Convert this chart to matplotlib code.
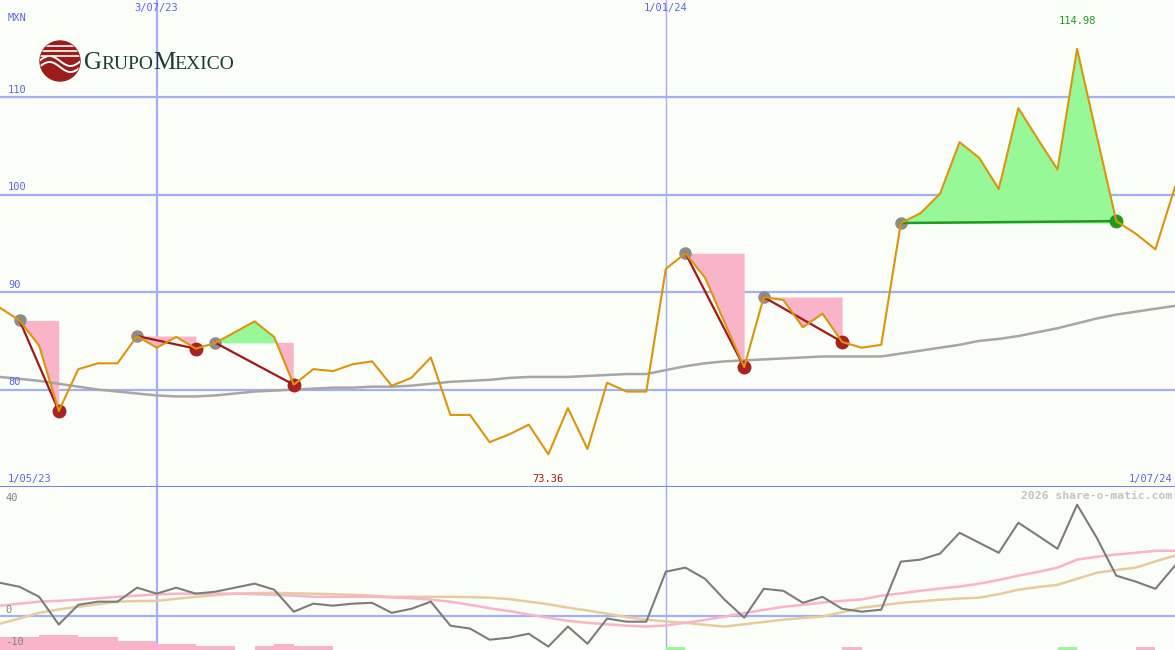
import matplotlib
matplotlib.use('Agg')
import matplotlib.pyplot as plt
import matplotlib.patches as mpatches
import pandas as pd
import numpy as np

# weekly closes, May 2023 - Jul 2024
dates = pd.date_range('2023-05-08', periods=61, freq='7D')

price = [88.4, 87.1, 84.5, 77.8, 82.1, 82.7, 82.7, 85.5, 84.3, 85.4,
         84.2, 84.8, 85.9, 87.0, 85.4, 80.5, 82.1, 81.9, 82.6, 82.9,
         80.4, 81.2, 83.3, 77.4, 77.4, 74.6, 75.4, 76.4, 73.36, 78.1,
         73.9, 80.7, 79.8, 79.8, 92.4, 94.0, 91.5, 86.9, 82.3, 89.5,
         89.2, 86.4, 87.8, 84.9, 84.3, 84.6, 97.1, 98.1, 100.1, 105.4,
         103.8, 100.6, 108.9, 105.7, 102.6, 114.98, 106.1, 97.3, 96.0, 94.4,
         100.8]

avg = [81.3, 81.1, 80.9, 80.6, 80.3, 80.0, 79.8, 79.6, 79.4, 79.3,
       79.3, 79.4, 79.6, 79.8, 79.9, 80.0, 80.1, 80.2, 80.2, 80.3,
       80.3, 80.4, 80.6, 80.8, 80.9, 81.0, 81.2, 81.3, 81.3, 81.3,
       81.4, 81.5, 81.6, 81.6, 82.0, 82.4, 82.7, 82.9, 83.0, 83.1,
       83.2, 83.3, 83.4, 83.4, 83.4, 83.4, 83.7, 84.0, 84.3, 84.6,
       85.0, 85.2, 85.5, 85.9, 86.3, 86.8, 87.3, 87.7, 88.0, 88.3,
       88.6]

# lower panel oscillator
osc = [11.5, 10.1, 6.6, -3.1, 3.8, 4.9, 4.9, 9.8, 7.7, 9.8,
       7.7, 8.4, 9.8, 11.2, 9.1, 1.4, 4.2, 3.5, 4.2, 4.5,
       1.0, 2.4, 4.9, -3.5, -4.5, -8.4, -7.7, -6.3, -10.8, -3.8,
       -9.8, -1.0, -2.1, -2.1, 15.4, 16.8, 12.9, 5.6, -0.7, 9.4,
       8.7, 4.5, 6.6, 2.4, 1.4, 2.1, 18.9, 19.6, 21.7, 29.0,
       25.5, 22.0, 32.5, 28.0, 23.4, 38.8, 27.3, 14.0, 11.9, 9.4,
       17.5]

osc_fast = [3.5, 4.2, 4.9, 5.2, 5.6, 6.1, 6.6, 7.0, 7.4, 7.7,
            7.7, 7.7, 7.7, 7.5, 7.3, 7.0, 6.6, 6.6, 6.6, 6.6,
            6.4, 6.1, 5.6, 4.9, 3.8, 2.6, 1.6, 0.4, -0.7, -1.8,
            -2.5, -3.0, -3.5, -3.8, -3.4, -2.5, -1.5, -0.3, 0.9, 2.0,
            3.1, 3.8, 4.6, 5.2, 5.7, 7.0, 7.8, 8.7, 9.5, 10.2,
            11.2, 12.5, 14.0, 15.3, 16.8, 19.6, 20.6, 21.4, 22.0, 22.7,
            22.7]

osc_slow = [-2.8, -1.0, 1.0, 2.2, 3.1, 4.0, 4.9, 5.1, 5.2, 5.9,
            6.6, 7.2, 7.7, 7.9, 8.0, 7.8, 7.7, 7.5, 7.3, 7.0,
            6.6, 6.6, 6.6, 6.6, 6.5, 6.3, 5.8, 4.9, 4.0, 2.8,
            1.8, 0.7, -0.5, -1.4, -2.0, -2.5, -3.2, -3.8, -3.0, -2.2,
            -1.4, -0.8, -0.3, 1.2, 2.8, 3.6, 4.5, 5.0, 5.6, 6.0,
            6.3, 7.5, 9.1, 10.0, 10.8, 12.9, 15.0, 16.0, 16.8, 19.0,
            21.0]

bar_idx = [0, 1, 2, 3, 4, 5, 6, 7, 8, 9, 10, 11, 13, 14, 15, 16, 34, 43, 54, 58]
bar_val = [-7.6, -7.6, -6.6, -6.6, -7.6, -7.6, -8.7, -8.7, -9.8, -9.8,
           -10.7, -10.7, -10.7, -9.8, -10.7, -10.7, -10.8, -10.8, -10.8, -10.8]
bar_col = ['pink'] * 16 + ['green', 'pink', 'green', 'pink']

# swing pairs (peak index, trough index) and the final breakout
swings = [(1, 3), (7, 10), (11, 15), (35, 38), (39, 43)]
rise = (46, 57)

BG = '#fbfdf8'
GRID = '#a4b0f2'
BLUE = '#5a66e6'
PINK = '#f9b4c9'
GREEN = '#98f898'
ORANGE = '#d9960a'
MONO = 'DejaVu Sans Mono'

W, H = 1175, 650
fig = plt.figure(figsize=(W / 100, H / 100), dpi=100, facecolor=BG)
ax = fig.add_axes([0, 163 / H, 1, 487 / H], facecolor=BG)
ax2 = fig.add_axes([0, 0, 1, 163 / H], facecolor=BG, sharex=ax)

price = np.array(price)
x = dates

# ---- main panel ----
for v in [80, 90, 100, 110]:
    ax.axhline(v, color=GRID, lw=1.6, zorder=0)
    ax.text(8 / W, v + 0.25, str(v), transform=ax.get_yaxis_transform(),
            color=BLUE, fontsize=7.5, family=MONO, va='bottom')
ax.axvline(dates[8], color=GRID, lw=1.6, zorder=0)
ax.axvline(dates[34], color=GRID, lw=1.0, zorder=0)

for p, t in swings:
    seg = slice(p, t + 1)
    lvl = price[p]
    ax.fill_between(x[seg], price[seg], lvl, where=price[seg] <= lvl,
                    interpolate=True, color=PINK, lw=0, zorder=1)
    ax.fill_between(x[seg], price[seg], lvl, where=price[seg] >= lvl,
                    interpolate=True, color=GREEN, lw=0, zorder=1)
    ax.plot([x[p], x[t]], [price[p], price[t]], color='#a01818', lw=1.6, zorder=4)
    ax.plot(x[t], price[t], 'o', color='#a82222', ms=9, zorder=3)
    ax.plot(x[p], price[p], 'o', color='#8c8c8c', ms=8, zorder=3)

p, t = rise
seg = slice(p, t + 1)
ax.fill_between(x[seg], price[seg], price[p], color=GREEN, lw=0, zorder=1)
ax.plot([x[p], x[t]], [price[p], price[t]], color='#229922', lw=1.8, zorder=4)
ax.plot(x[p], price[p], 'o', color='#8c8c8c', ms=8, zorder=3)
ax.plot(x[t], price[t], 'o', color='#229922', ms=9, zorder=3)

ax.plot(x, avg, color='#a6a6a6', lw=1.8, zorder=2)
ax.plot(x, price, color=ORANGE, lw=1.5, zorder=5)

ax.set_xlim(dates[0], dates[-1])
ax.set_ylim(70, 120)

ax.text(8 / W, 1 - 18 / 487, 'MXN', transform=ax.transAxes, color=BLUE,
        fontsize=7.5, family=MONO, va='center')
for i, lab in [(8, '3/07/23'), (34, '1/01/24')]:
    ax.text(dates[i], 1 - 8 / 487, lab, transform=ax.get_xaxis_transform(),
            color=BLUE, fontsize=7.5, family=MONO, ha='center', va='center')
ax.text(8 / W, 8 / 487, '1/05/23', transform=ax.transAxes, color=BLUE,
        fontsize=7.5, family=MONO, va='center')
ax.text(1 - 3 / W, 8 / 487, '1/07/24', transform=ax.transAxes, color=BLUE,
        fontsize=7.5, family=MONO, va='center', ha='right')
imin = int(np.argmin(price))
ax.text(dates[imin], 8 / 487, '%.2f' % price[imin], transform=ax.get_xaxis_transform(),
        color='#a01818', fontsize=7.5, family=MONO, va='center', ha='center')
imax = int(np.argmax(price))
ax.text(dates[imax], 1 - 21 / 487, '%.2f' % price[imax], transform=ax.get_xaxis_transform(),
        color='#229922', fontsize=7.5, family=MONO, va='center', ha='center')

for s in ax.spines.values():
    s.set_visible(False)
ax.spines['bottom'].set_visible(True)
ax.spines['bottom'].set_color('#7886ec')
ax.spines['bottom'].set_linewidth(2.2)
ax.tick_params(left=False, bottom=False, labelleft=False, labelbottom=False)

# ---- lower panel ----
ax2.axhline(0, color=GRID, lw=1.6, zorder=0)
ax2.axvline(dates[8], color=GRID, lw=1.6, zorder=0)
ax2.axvline(dates[34], color=GRID, lw=1.0, zorder=0)
bot = -12
for i, v, c in zip(bar_idx, bar_val, bar_col):
    ax2.bar(dates[i], v - bot, bottom=bot, width=7, align='edge',
            color=PINK if c == 'pink' else GREEN, lw=0, zorder=1)
ax2.plot(x, osc_slow, color='#e6cc9c', lw=1.8, zorder=2)
ax2.plot(x, osc_fast, color='#f8b4c8', lw=1.8, zorder=2)
ax2.plot(x, osc, color='#7c7c7c', lw=1.5, zorder=3)
ax2.set_ylim(bot, 45)
ax2.text(5 / W, 41.3, '40', color='#808080', fontsize=7.5, family=MONO,
         transform=ax2.get_yaxis_transform(), va='center')
ax2.text(5 / W, 2, '0', color='#808080', fontsize=7.5, family=MONO,
         transform=ax2.get_yaxis_transform(), va='center')
ax2.text(5 / W, -9.2, '-10', color='#808080', fontsize=7.5, family=MONO,
         transform=ax2.get_yaxis_transform(), va='center')
ax2.text(1 - 3 / W, 1 - 9 / 163, '2026 share-o-matic.com', transform=ax2.transAxes,
         color='#c4c4c4', fontsize=8.2, family=MONO, fontweight='bold',
         ha='right', va='center')
for s in ax2.spines.values():
    s.set_visible(False)
ax2.tick_params(left=False, bottom=False, labelleft=False, labelbottom=False)

# ---- logo ----
lax = fig.add_axes([39 / W, 1 - 82 / H, 42 / W, 42 / H])
lax.set_xlim(-1.05, 1.05)
lax.set_ylim(-1.05, 1.05)
lax.set_aspect('equal')
lax.axis('off')
circ = mpatches.Circle((0, 0), 1, color='#9c1c1c')
lax.add_patch(circ)
for yy in [0.75, 0.5, 0.25]:
    ln, = lax.plot([-1, 1], [yy, yy], color='white', lw=1.2)
    ln.set_clip_path(circ)
wx = np.linspace(-1, 1, 50)
for off in [0.0, -0.3]:
    ln, = lax.plot(wx, off - 0.25 * np.sin(wx * 3.0), color='white', lw=1.4)
    ln.set_clip_path(circ)

# logo word in small caps, pieces placed one after another
logo_col = '#1c3c36'
renderer = fig.canvas.get_renderer()
px = 84
for txt, fs in [('G', 18), ('RUPO', 14), ('M', 18), ('EXICO', 14)]:
    tt = fig.text(px / W, 1 - 69 / H, txt, color=logo_col, fontsize=fs,
                  family='Liberation Serif', va='baseline')
    bb = tt.get_window_extent(renderer=renderer)
    px = bb.x1 - 0.5

fig.savefig('out.png', dpi=100, facecolor=BG)
